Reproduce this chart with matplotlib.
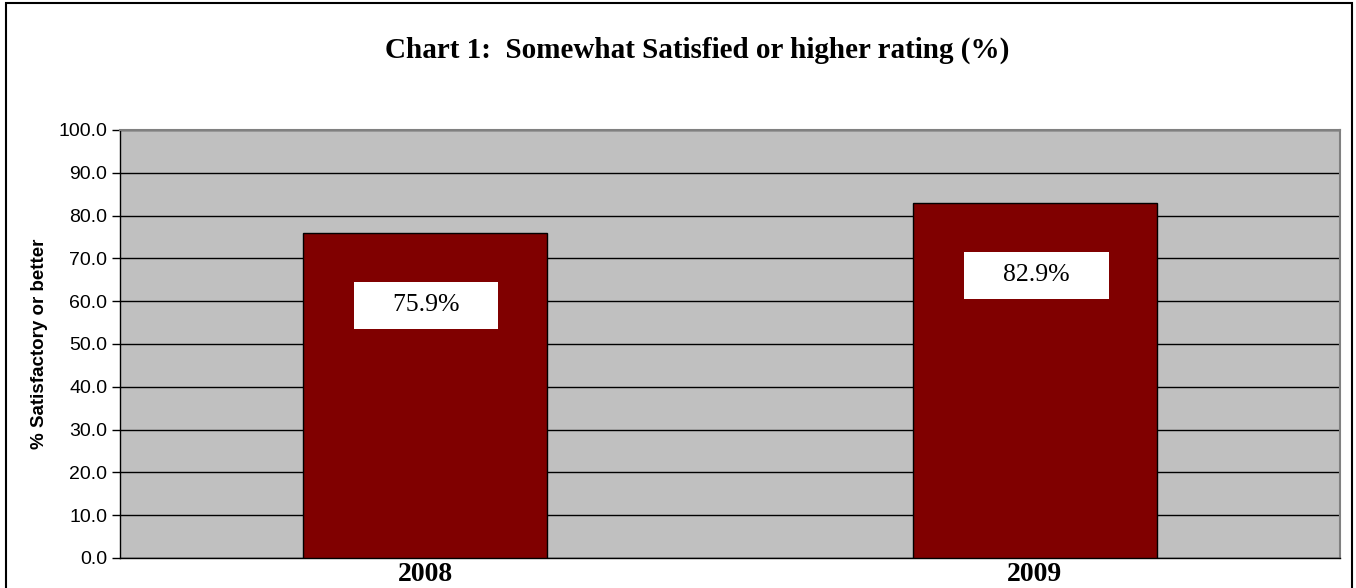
import matplotlib
matplotlib.use("Agg")
import matplotlib.pyplot as plt
from matplotlib.patches import Rectangle

years = ["2008", "2009"]
values = [75.9, 82.9]
labels = ["75.9%", "82.9%"]
yticks = [0, 10, 20, 30, 40, 50, 60, 70, 80, 90, 100]

fig = plt.figure(figsize=(13.56, 5.88), dpi=100)
fig.patch.set_facecolor("white")
ax = fig.add_axes([120/1356, 30/588, 1220/1356, 428/588])
ax.set_facecolor("#C0C0C0")

x = list(range(len(years)))
ax.bar(x, values, width=0.4, color="#800000", edgecolor="black", linewidth=1.0, zorder=3)
ax.set_xlim(-0.5, len(years) - 0.5)
ax.set_ylim(0, 100)
ax.set_yticks(yticks)
ax.set_yticklabels([f"{v:.1f}" for v in yticks], fontsize=14, family="Liberation Sans")
ax.yaxis.grid(True, color="black", linewidth=1.0, zorder=1)
ax.set_axisbelow(True)
ax.set_xticks(x)
ax.set_xticklabels(years, fontsize=20, fontweight="bold", family="Liberation Serif")
ax.tick_params(axis="x", length=0, pad=3)
ax.tick_params(axis="y", length=6, width=1, direction="out", pad=3)
for side in ["top", "right"]:
    ax.spines[side].set_color("#808080")
    ax.spines[side].set_linewidth(1.5)
for side in ["left", "bottom"]:
    ax.spines[side].set_color("black")
    ax.spines[side].set_linewidth(1.0)

ax.set_ylabel("% Satisfactory or better", fontsize=13.5, fontweight="bold",
              family="Liberation Sans", labelpad=8)

for xi, v, lab in zip(x, values, labels):
    ax.annotate("    " + lab + "    ", xy=(xi, v), xytext=(1, -52), textcoords="offset points",
                ha="center", va="center", fontsize=18.5, family="Liberation Serif",
                bbox=dict(boxstyle="square,pad=0.5", facecolor="white", edgecolor="none"),
                zorder=5)

fig.text(697/1356, 1 - 50/588, "Chart 1:  Somewhat Satisfied or higher rating (%)",
         ha="center", va="center", fontsize=21, fontweight="bold", family="Liberation Serif")

fig.patches.append(Rectangle((6/1356, -0.05), 1346/1356, 1.05 - 3/588,
                             transform=fig.transFigure, fill=False,
                             edgecolor="black", linewidth=1.5))

fig.savefig("out.png", dpi=100)
